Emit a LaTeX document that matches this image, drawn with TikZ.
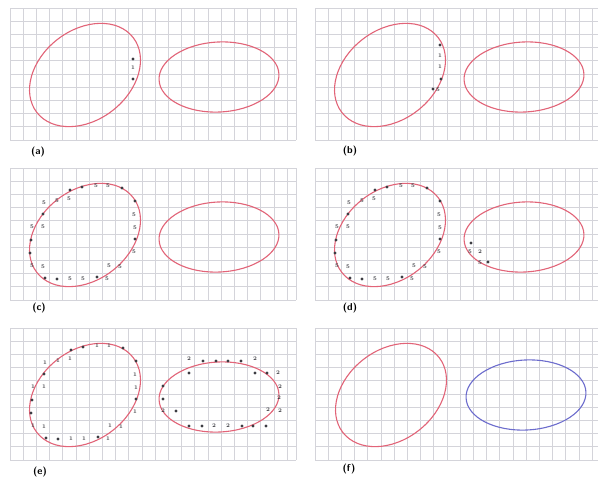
\documentclass[tikz,border=0pt]{standalone}
\usepackage{tikz}
\usetikzlibrary{positioning}
\definecolor{gridgray}{RGB}{212,212,218}
\definecolor{ringred}{RGB}{226,100,120}
\definecolor{ringblue}{RGB}{108,108,205}
\definecolor{markgray}{RGB}{60,60,66}
\tikzset{
  gridline/.style={draw=gridgray,line width=.7pt},
  ring/.style={draw=ringred,line width=1.1pt},
  ringb/.style={draw=ringblue,line width=1.1pt},
  blob/.style={circle,fill=markgray,inner sep=0pt,minimum size=3.4pt},
  num/.style={inner sep=0pt,font=\fontsize{5.5}{5.5}\selectfont\bfseries,text=markgray},
  lab/.style={font=\sffamily\bfseries\fontsize{10}{10}\selectfont},
}
% marks round the tilted ellipse, panel (c) frame
\def\leftblobs{70/190,82/187,122/188,135/201,135/239,97/277,57/279,45/278,30/253,31/240,43/214}
\def\leftnums{96/186,108/186,134/215,135/228,134/252,109/266,120/267,107/279,83/279,70/279,32/266,43/267,32/227,43/227,44/203,57/201,69/199}

\begin{document}
\begin{tikzpicture}[x=1pt,y=-1pt]
  \useasboundingbox (0,0) rectangle (598,479);
  \fill[white] (0,0) rectangle (598,479);
  \clip (0,0) rectangle (598,479);

  % grids
  \foreach \ox/\oy in {0/0,305/0,0/160,305/160,0/320,305/320}{
    \foreach \i in {0,...,21}
      \draw[gridline] ({10+\ox+13.2*\i},{8+\oy}) -- ++(0,132);
    \draw[gridline] ({296+\ox},{8+\oy}) -- ++(0,132);
    \foreach \j in {0,...,10}
      \draw[gridline] ({10+\ox},{8+\oy+13.2*\j}) -- ++(286,0);
  }

  % ellipses
  \foreach \ox/\oy in {0/0,305/0,0/160,305/160,0/320}{
    \draw[ring,rotate around={38:({85+\ox},{75+\oy})}] ({85+\ox},{75+\oy}) ellipse[x radius=61,y radius=45];
    \draw[ring,rotate around={3:({219+\ox},{77+\oy})}] ({219+\ox},{77+\oy}) ellipse[x radius=60,y radius=35];
  }
  \draw[ring,rotate around={38:(391,395)}] (391,395) ellipse[x radius=61,y radius=45];
  \draw[ringb,rotate around={3:(526,395)}] (526,395) ellipse[x radius=60,y radius=35];

  % (a)
  \node[blob] (a1) at (133,59) {};
  \node[num] (a2) at (133,68) {1};
  \node[blob] (a3) at (133,79) {};

  % (b)
  \node[blob] (b1) at (440,45) {};
  \node[num] (b2) at (440,56) {1};
  \node[num] (b3) at (440,67) {1};
  \node[blob] (b4) at (441,79) {};
  \node[blob] (b5) at (433,89) {};
  \node[num] (b6) at (438,90) {5};

  % (c) and (d), left ellipse
  \foreach \x/\y [count=\k] in \leftblobs{
    \node[blob] (cb\k) at (\x,\y) {};
    \node[blob] (db\k) at (\x+305,\y) {};
  }
  \foreach \x/\y [count=\k] in \leftnums{
    \node[num] (cn\k) at (\x,\y) {5};
    \node[num] (dn\k) at (\x+305,\y) {5};
  }
  % (d), right ellipse
  \node[blob] (d1) at (471,243) {};
  \node[num] (d2) at (470,252) {5};
  \node[num] (d3) at (480,252) {2};
  \node[num] (d4) at (480,263) {5};
  \node[blob] (d5) at (488,262) {};

  % (e), left ellipse
  \foreach \x/\y [count=\k] in \leftblobs
    \node[blob] (eb\k) at (\x+1,\y+160) {};
  \foreach \x/\y [count=\k] in \leftnums
    \node[num] (en\k) at (\x+1,\y+160) {1};
  % (e), right ellipse
  \foreach \x/\y [count=\k] in {203/361,216/361,228/361,241/361,189/373,255/373,267/373,163/386,163/399,176/411,189/426,202/426,242/426,253/426,266/426}
    \node[blob] (fb\k) at (\x,\y) {};
  \foreach \x/\y [count=\k] in {189/359,255/359,278/373,163/411,280/387,279/398,268/410,280/411,214/426,228/426}
    \node[num] (fn\k) at (\x,\y) {2};

  % panel labels
  \node[lab] (la) at (38,152) {(a)};
  \node[lab] (lb) at (350,151) {(b)};
  \node[lab] (lc) at (39,308) {(c)};
  \node[lab] (ld) at (350,308) {(d)};
  \node[lab] (le) at (40,472) {(e)};
  \node[lab] (lf) at (349,469) {(f)};
\end{tikzpicture}
\end{document}
